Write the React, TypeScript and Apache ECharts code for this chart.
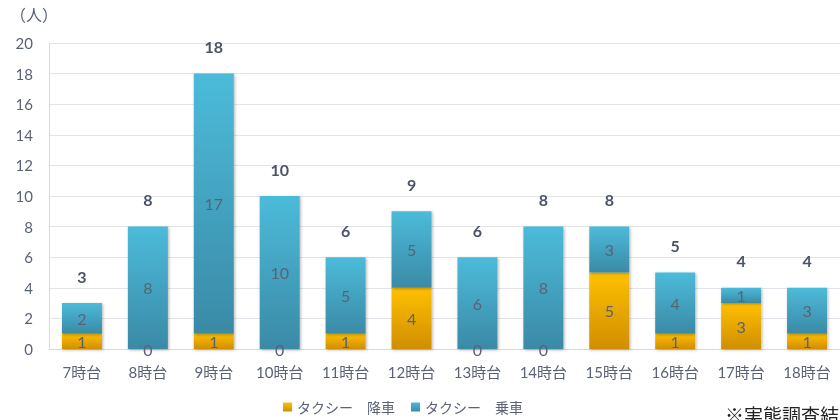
import React, { useEffect, useRef } from "react";
import * as echarts from "echarts";

const categories = ["7時台", "8時台", "9時台", "10時台", "11時台", "12時台", "13時台", "14時台", "15時台", "16時台", "17時台", "18時台"];
const alighting = [1, 0, 1, 0, 1, 4, 0, 0, 5, 1, 3, 1];
const boarding = [2, 8, 17, 10, 5, 5, 6, 8, 3, 4, 1, 3];
const seriesNames = ["タクシー　降車", "タクシー　乗車"];
const unitLabel = "（人）";
const footnote = "※実態調査結果";

const FONT = "Lato, 'Noto Sans CJK JP', sans-serif";
const TXT = "#5b6275";

export default function App() {
  const ref = useRef<HTMLDivElement>(null);
  useEffect(() => {
    if (!ref.current) return;
    const chart = echarts.init(ref.current, null, { renderer: "svg" });
    const totals = alighting.map((v, i) => v + boarding[i]);
    const orange = new echarts.graphic.LinearGradient(0, 0, 0, 1, [
      { offset: 0, color: "#ffc000" },
      { offset: 1, color: "#d08e00" },
    ]);
    const blue = new echarts.graphic.LinearGradient(0, 0, 0, 1, [
      { offset: 0, color: "#4cbbda" },
      { offset: 1, color: "#3a8aa6" },
    ]);
    const shadow = { shadowBlur: 3, shadowColor: "rgba(0,0,0,0.3)", shadowOffsetX: 1, shadowOffsetY: 1 };
    const segLabel = { show: true, position: "inside", color: TXT, fontSize: 16, fontFamily: FONT };
    chart.setOption({
      animation: false,
      textStyle: { fontFamily: FONT },
      grid: { left: 49, top: 43, width: 794, height: 306 },
      graphic: [
        { type: "text", left: 10, top: 6, style: { text: unitLabel, fontSize: 16, fill: TXT, fontFamily: FONT } },
        { type: "text", left: 725, top: 406, style: { text: footnote, fontSize: 19, fill: "#222", fontFamily: FONT } },
      ],
      legend: {
        data: seriesNames,
        left: 278,
        top: 395,
        itemWidth: 9,
        itemHeight: 9,
        itemGap: 16,
        icon: "rect",
        textStyle: { color: TXT, fontSize: 14, fontFamily: FONT },
      },
      xAxis: {
        type: "category",
        data: categories,
        axisLine: { show: true, lineStyle: { color: "#d9d9d9", width: 1 } },
        axisTick: { show: false },
        axisLabel: { color: TXT, fontSize: 15, margin: 15, fontFamily: FONT },
      },
      yAxis: {
        type: "value",
        min: 0,
        max: 20,
        interval: 2,
        axisLine: { show: true, lineStyle: { color: "#d9d9d9", width: 1 } },
        axisTick: { show: false },
        splitLine: { lineStyle: { color: "#e3e3ea", width: 1 } },
        axisLabel: { color: TXT, fontSize: 15, margin: 16, fontFamily: FONT },
      },
      series: [
        {
          name: seriesNames[0],
          type: "bar",
          stack: "t",
          barWidth: 40,
          data: alighting,
          itemStyle: { color: orange, ...shadow },
          label: segLabel,
        },
        {
          name: seriesNames[1],
          type: "bar",
          stack: "t",
          barWidth: 40,
          data: boarding,
          itemStyle: { color: blue, ...shadow },
          label: segLabel,
        },
        {
          name: "total",
          type: "bar",
          stack: "t",
          barWidth: 40,
          data: totals.map(() => 0),
          itemStyle: { color: "transparent" },
          label: {
            show: true,
            position: "top",
            distance: 19,
            formatter: (p: any) => String(totals[p.dataIndex]),
            color: "#4a5368",
            fontSize: 16,
            fontWeight: "bold",
            fontFamily: FONT,
          },
        },
      ],
    });
    return () => chart.dispose();
  }, []);
  return <div ref={ref} style={{ position: "fixed", left: 0, top: 0, width: 840, height: 420 }} />;
}
